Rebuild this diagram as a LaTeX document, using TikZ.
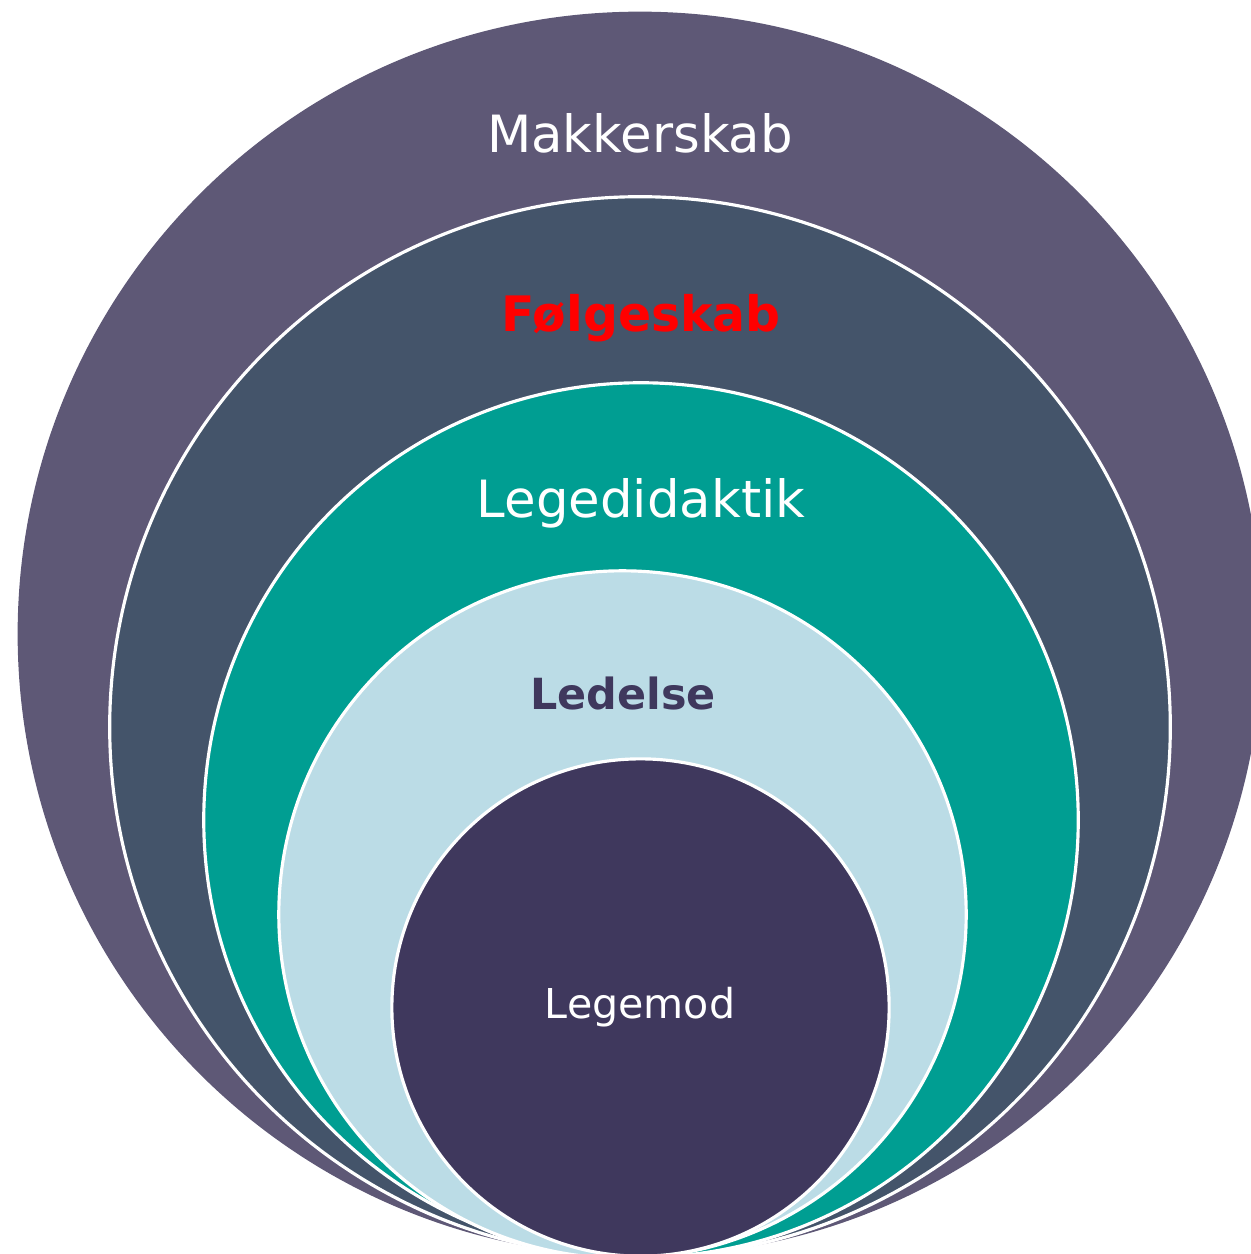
\documentclass[tikz,border=0pt]{standalone}
\usepackage{fontspec}
\setmainfont{DejaVu Sans}
\usepackage{tikz}
\usepackage{xcolor}
\definecolor{ColA}{RGB}{94,88,118}
\definecolor{ColB}{RGB}{68,84,106}
\definecolor{ColC}{RGB}{0,158,146}
\definecolor{ColD}{RGB}{187,220,230}
\definecolor{ColE}{RGB}{63,56,93}
\definecolor{ColRed}{RGB}{255,0,0}
\tikzstyle{Ring}=[circle,draw=white,line width=0.9pt,inner sep=0pt,outer sep=0pt]
\tikzstyle{RingLabel}=[inner sep=0pt,font=\fontsize{14.6}{16}\selectfont]

\begin{document}
\begin{tikzpicture}[x=0.01cm,y=-0.01cm]
        \useasboundingbox(0,0)rectangle(1251,1254);
        \node[Ring,draw=none,fill=ColA,minimum size=12.44cm](makker)at(640,634){};
        \node[Ring,fill=ColB,minimum size=10.60cm](foelge)at(640,727){};
        \node[Ring,fill=ColC,minimum size=8.74cm](didaktik)at(641,820){};
        \node[Ring,fill=ColD,minimum size=6.87cm](ledelse)at(622.5,914.5){};
        \node[Ring,fill=ColE,minimum size=4.97cm](mod)at(640.5,1007.5){};
        \node[RingLabel,text=white](lmakker)at(640,133){Makkerskab};
        \node[RingLabel,text=ColRed,font=\fontsize{13.9}{16}\selectfont\bfseries](lfoelge)at(641,318){Følgeskab};
        \node[RingLabel,text=white](ldidaktik)at(641,503){Legedidaktik};
        \node[RingLabel,text=ColE,font=\fontsize{12.2}{14}\selectfont\bfseries](lledelse)at(623,693){Ledelse};
        \node[RingLabel,text=white,font=\fontsize{11.7}{13}\selectfont](lmod)at(640,1007){Legemod};
    \end{tikzpicture}
\end{document}
